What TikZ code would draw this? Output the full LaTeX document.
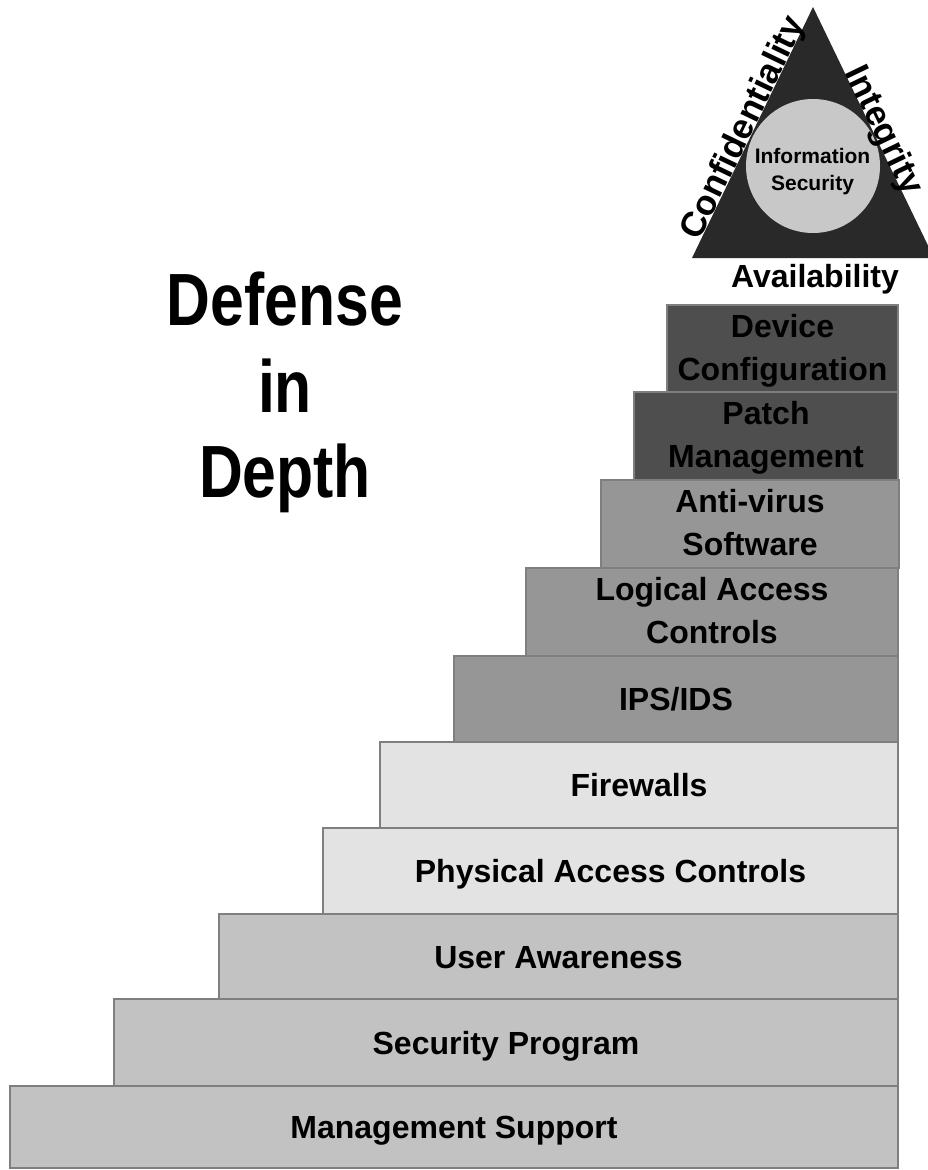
\documentclass[tikz,border=0pt]{standalone}
\usepackage{fontspec}
\setmainfont{Liberation Sans}
\newfontfamily\narrowfont[FakeStretch=0.82]{Liberation Sans}
\definecolor{stepA}{HTML}{C2C2C2}
\definecolor{stepB}{HTML}{E3E3E3}
\definecolor{stepC}{HTML}{969696}
\definecolor{stepD}{HTML}{4E4E4E}
\definecolor{edgeC}{HTML}{7F7F7F}
\definecolor{triC}{HTML}{292929}
\definecolor{circC}{HTML}{C8C8C8}
\tikzset{
  stepbox/.style={draw=edgeC, line width=1.2pt, anchor=north west, inner sep=0pt, outer sep=0pt},
  lbl/.style={font=\bfseries\fontsize{32}{43}\selectfont, anchor=base, inner sep=0pt},
  ciasidelbl/.style={font=\bfseries\fontsize{35}{43}\selectfont, anchor=base, inner sep=0pt, sloped},
  titlelbl/.style={font=\narrowfont\bfseries\fontsize{74}{86}\selectfont, anchor=base, inner sep=0pt},
  circlbl/.style={font=\bfseries\fontsize{21}{27}\selectfont, anchor=base, inner sep=0pt},
}
\begin{document}
\begin{tikzpicture}[x=1pt,y=-1pt]
\useasboundingbox (0,0) rectangle (928,1170);
\fill[white] (0,0) rectangle (928,1170);

% steps (left, top, width, height)
\node[stepbox, fill=stepA, minimum width=888, minimum height=82] (mgmt) at (10,1086) {};
\node[stepbox, fill=stepA, minimum width=784, minimum height=87] (sec) at (114,999) {};
\node[stepbox, fill=stepA, minimum width=679, minimum height=85] (user) at (219,914) {};
\node[stepbox, fill=stepB, minimum width=575, minimum height=86] (phys) at (323,828) {};
\node[stepbox, fill=stepB, minimum width=518, minimum height=86] (fire) at (380,742) {};
\node[stepbox, fill=stepC, minimum width=444, minimum height=86] (ips) at (454,656) {};
\node[stepbox, fill=stepC, minimum width=372, minimum height=88] (logic) at (526,568) {};
\node[stepbox, fill=stepC, minimum width=298, minimum height=88] (anti) at (601,480) {};
\node[stepbox, fill=stepD, minimum width=264, minimum height=88] (patch) at (634,392) {};
\node[stepbox, fill=stepD, minimum width=231, minimum height=87] (dev) at (667,305) {};

% step labels
\node[lbl] (mgmtT) at ([yshift=-11.5pt]mgmt.center) {Management Support};
\node[lbl] (secT) at ([yshift=-11.5pt]sec.center) {Security Program};
\node[lbl] (userT) at ([yshift=-11.5pt]user.center) {User Awareness};
\node[lbl] (physT) at ([yshift=-11.5pt]phys.center) {Physical Access Controls};
\node[lbl] (fireT) at ([yshift=-11.5pt]fire.center) {Firewalls};
\node[lbl] (ipsT) at ([yshift=-11.5pt]ips.center) {IPS/IDS};
\node[lbl] (logicA) at ([yshift=11.5pt]logic.center) {Logical Access};
\node[lbl] (logicB) at ([yshift=-31.5pt]logic.center) {Controls};
\node[lbl] (antiA) at ([yshift=11.5pt]anti.center) {Anti-virus};
\node[lbl] (antiB) at ([yshift=-31.5pt]anti.center) {Software};
\node[lbl] (patchA) at ([yshift=11.5pt]patch.center) {Patch};
\node[lbl] (patchB) at ([yshift=-31.5pt]patch.center) {Management};
\node[lbl] (devA) at ([yshift=11.5pt]dev.center) {Device};
\node[lbl] (devB) at ([yshift=-31.5pt]dev.center) {Configuration};

% CIA triangle
\coordinate (L) at (692,258);
\coordinate (T) at (813,7);
\coordinate (R) at (934,258);
\fill[triC] (L) -- (T) -- (R) -- cycle;
\node[circle, fill=circC, minimum size=134, inner sep=0pt] (circ) at (813,166) {};
\node[circlbl] (info) at (812.5,163) {Information};
\node[circlbl] (secu) at (812.5,190) {Security};
\path (L) -- (T) node[pos=0.50, ciasidelbl] (conf) {Confidentiality};
\path (T) -- (R) node[pos=0.51, ciasidelbl] (integ) {Integrity};
\node[lbl] (avail) at (815,287) {Availability};

% title
\node[titlelbl] (t1) at (285,325) {Defense};
\node[titlelbl] (t2) at (285,412) {in};
\node[titlelbl] (t3) at (285,497) {Depth};
\end{tikzpicture}
\end{document}
